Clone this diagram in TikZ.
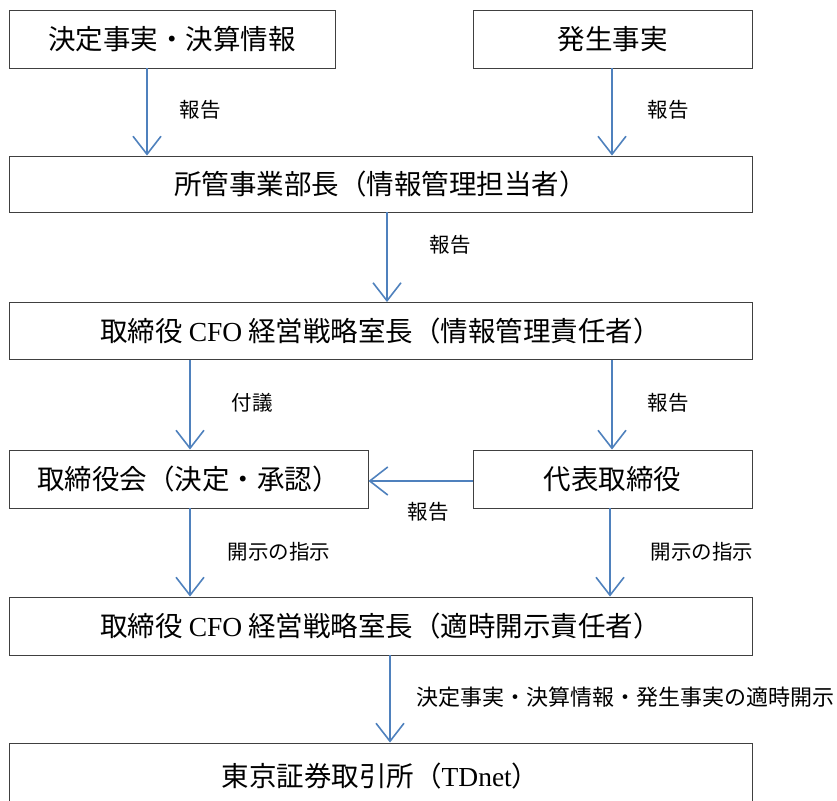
\documentclass[tikz,border=0pt]{standalone}
\usepackage{fontspec}
\setmainfont{Liberation Serif}
\newfontfamily\cjk{Noto Sans CJK JP}
\usetikzlibrary{arrows.meta}
\definecolor{arrblue}{HTML}{4F81BD}
\definecolor{boxgray}{HTML}{404040}
\tikzset{
  box/.style={draw=boxgray, line width=0.9pt, rectangle, inner sep=0pt, font=\fontsize{27.5}{32}\selectfont\cjk},
  arr/.style={draw=arrblue, line width=1.6pt, -{Straight Barb[length=18pt,width=28pt]}},
  lbl/.style={font=\fontsize{20.5}{24}\selectfont\cjk, inner sep=0pt}
}
\begin{document}
\begin{tikzpicture}[x=1pt,y=-1pt]
\useasboundingbox (0,0) rectangle (837,800);
\clip (0,0) rectangle (837,800);
\node[box, minimum width=326pt, minimum height=58pt] (b1) at (172,39) {決定事実・決算情報};
\node[box, minimum width=279pt, minimum height=58pt] (b2) at (612.5,39) {発生事実};
\node[box, minimum width=743pt, minimum height=56pt] (b3) at (380.5,184) {所管事業部長（情報管理担当者）};
\node[box, minimum width=743pt, minimum height=57pt] (b4) at (380.5,331) {取締役 {\fontspec{Liberation Serif}CFO} 経営戦略室長（情報管理責任者）};
\node[box, minimum width=359pt, minimum height=58pt] (b5) at (188.5,479) {取締役会（決定・承認）};
\node[box, minimum width=279pt, minimum height=58pt] (b6) at (612.5,479) {代表取締役};
\node[box, minimum width=743pt, minimum height=58pt] (b7) at (380.5,626) {取締役 {\fontspec{Liberation Serif}CFO} 経営戦略室長（適時開示責任者）};
\node[box, minimum width=743pt, minimum height=66pt] (b8) at (380.5,776) {東京証券取引所（{\fontspec{Liberation Serif}TDnet}）};

\draw[arr] (147,0 |- b1.south) -- (147,0 |- b3.north);
\draw[arr] (612,0 |- b2.south) -- (612,0 |- b3.north);
\draw[arr] (387,0 |- b3.south) -- (387,0 |- b4.north);
\draw[arr] (190,0 |- b4.south) -- (190,0 |- b5.north);
\draw[arr] (612,0 |- b4.south) -- (612,0 |- b6.north);
\draw[arr] (b6.west |- 0,481) -- (b5.east |- 0,481);
\draw[arr] (190,0 |- b5.south) -- (190,0 |- b7.north);
\draw[arr] (610,0 |- b6.south) -- (610,0 |- b7.north);
\draw[arr] (390,0 |- b7.south) -- (390,0 |- b8.north);

\node[lbl] (l1) at (200,110) {報告};
\node[lbl] (l2) at (668,110) {報告};
\node[lbl] (l3) at (450,245) {報告};
\node[lbl] (l4) at (252,403) {付議};
\node[lbl] (l5) at (668,403) {報告};
\node[lbl] (l6) at (428,512) {報告};
\node[lbl] (l7) at (279,552) {開示の指示};
\node[lbl] (l8) at (702,552) {開示の指示};
\node[lbl, anchor=west, font=\fontsize{22}{24}\selectfont\cjk] (l9) at (416,697) {決定事実・決算情報・発生事実の適時開示};
\end{tikzpicture}
\end{document}
